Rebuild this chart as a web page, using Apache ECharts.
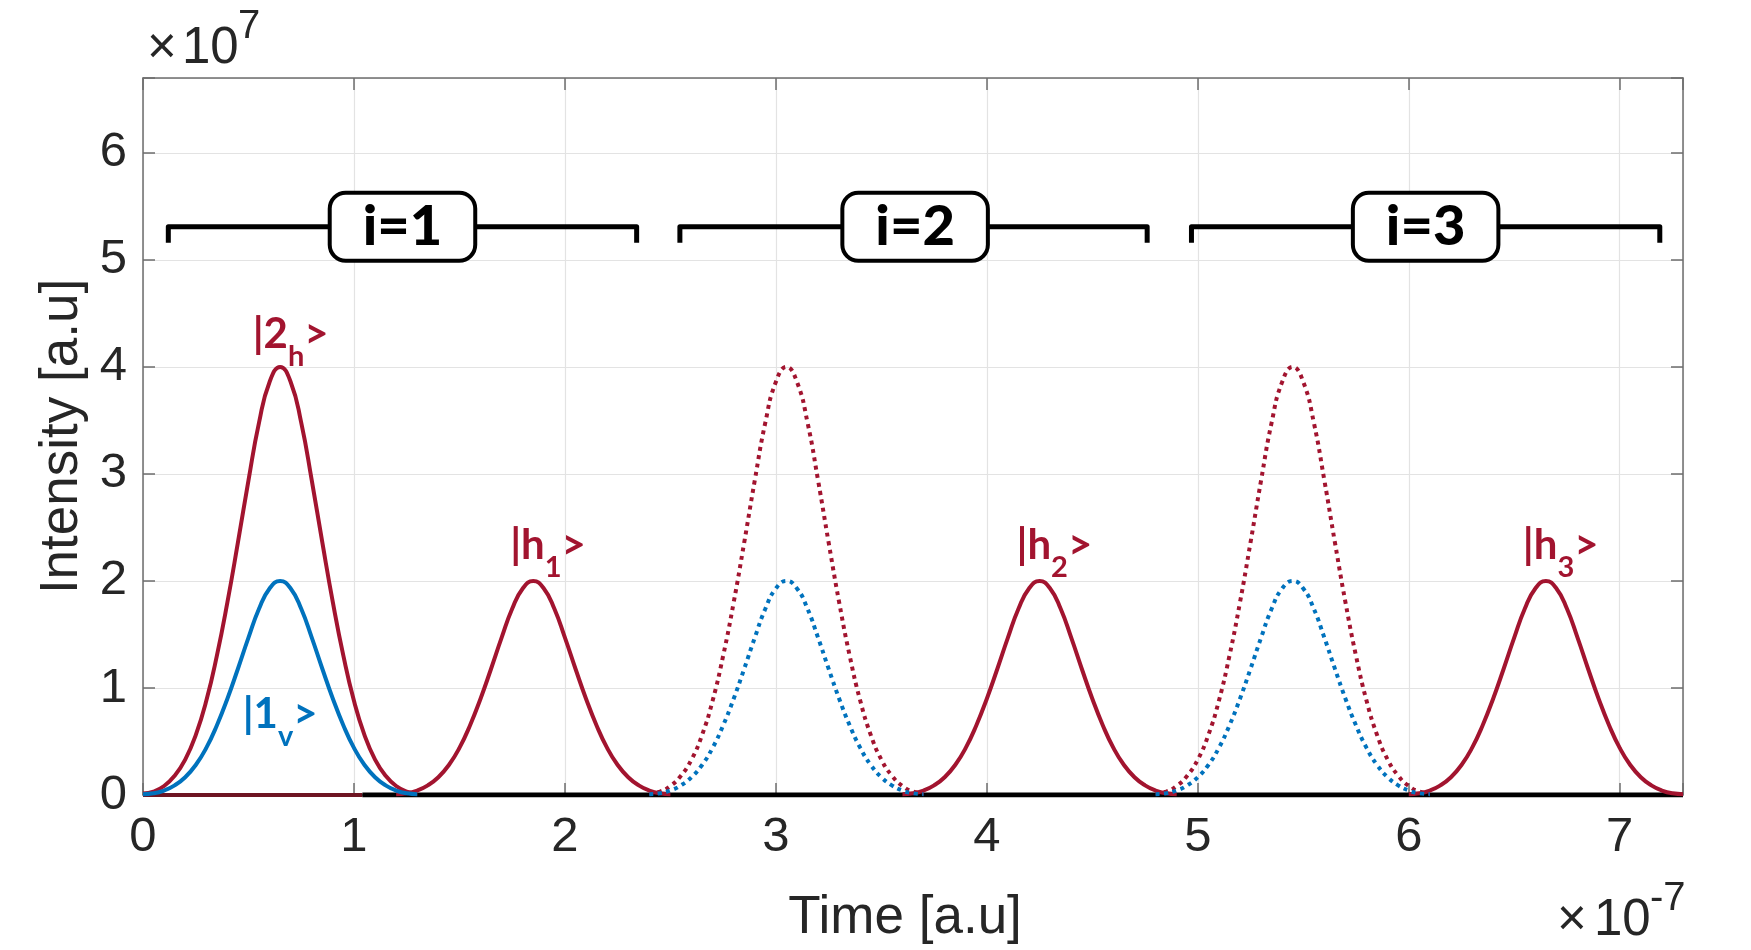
<!DOCTYPE html>
<html>
<head>
<meta charset="utf-8">
<title>Intensity vs time</title>
<script src="https://cdn.jsdelivr.net/npm/echarts@6/dist/echarts.min.js"></script>
<style>
  html, body { margin: 0; padding: 0; background: #fff; }
  #chart { width: 1751px; height: 950px; }
</style>
</head>
<body>
<div id="chart"></div>
<script>
// time in units of 1e-7, intensity in units of 1e7
const xTicks = [0, 1, 2, 3, 4, 5, 6, 7]
const yTicks = [0, 1, 2, 3, 4, 5, 6]

// one pulse: offset from the peak and height
const pulseOffsets = [-0.65, -0.6, -0.55, -0.5, -0.45, -0.4, -0.35, -0.3, -0.25, -0.2, -0.15, -0.1, -0.05, 0,
  0.05, 0.1, 0.15, 0.2, 0.25, 0.3, 0.35, 0.4, 0.45, 0.5, 0.55, 0.6, 0.65]
const bigPulse = [0.015, 0.032, 0.084, 0.18, 0.33, 0.56, 0.88, 1.3, 1.8, 2.36, 2.94, 3.48, 3.86, 4,
  3.86, 3.48, 2.94, 2.36, 1.8, 1.3, 0.88, 0.56, 0.33, 0.18, 0.084, 0.032, 0.015]
const smallPulse = [0.008, 0.016, 0.042, 0.09, 0.166, 0.28, 0.44, 0.65, 0.9, 1.18, 1.47, 1.74, 1.93, 2,
  1.93, 1.74, 1.47, 1.18, 0.9, 0.65, 0.44, 0.28, 0.166, 0.09, 0.042, 0.016, 0.008]

// pulse peaks
const redBigCenters = [0.65]              // |2h>
const redSmallCenters = [1.85, 4.25, 6.65] // |h1>, |h2>, |h3>
const blueSmallCenters = [0.65]           // |1v>
const dottedCenters = [3.05, 5.45]

// black baseline and its red start
const baselineSplit = 1.04
const baselineEnd = 7.3

// brackets i=1..3
const bracketLeft = [0.12, 2.545, 4.97]
const bracketRight = [2.34, 4.76, 7.19]
const bracketTop = 5.31
const bracketFoot = 5.16
const boxCenters = [1.23, 3.66, 6.08]
const boxLabels = ['i=1', 'i=2', 'i=3']

// state labels
const stateMain = ['|2', '|1', '|h', '|h', '|h']
const stateSub = ['h', 'v', '1', '2', '3']
const stateX = [0.70, 0.65, 1.92, 4.32, 6.72]
const stateY = [4.23, 0.68, 2.26, 2.26, 2.26]
const stateBlue = [false, true, false, false, false]

const RED = '#A2142F'
const BLUE = '#0072BD'
const AXIS = '#6e6e6e'
const TEXT = '#262626'
const FONT = 'Liberation Sans'
const BOLD = 'Lato'

function pulse(center, shape) {
  return pulseOffsets.map((d, i) => [+(center + d).toFixed(3), shape[i]])
}

function pulseSeries(center, shape, color, dotted) {
  return {
    type: 'line',
    data: pulse(center, shape),
    showSymbol: false,
    smooth: 0.5,
    silent: true,
    z: 3,
    lineStyle: dotted
      ? { color: color, width: 4, type: [4, 4.5], cap: 'butt' }
      : { color: color, width: 4 }
  }
}

const series = []

series.push({
  type: 'line', data: [[0, 0], [baselineSplit, 0]], showSymbol: false, silent: true, z: 2,
  lineStyle: { color: '#6e1522', width: 4 }
})
series.push({
  type: 'line', data: [[baselineSplit, 0], [baselineEnd, 0]], showSymbol: false, silent: true, z: 2,
  lineStyle: { color: '#000', width: 5 }
})

redBigCenters.forEach(c => series.push(pulseSeries(c, bigPulse, RED, false)))
redSmallCenters.forEach(c => series.push(pulseSeries(c, smallPulse, RED, false)))
blueSmallCenters.forEach(c => series.push(pulseSeries(c, smallPulse, BLUE, false)))
dottedCenters.forEach(c => series.push(pulseSeries(c, bigPulse, RED, true)))
dottedCenters.forEach(c => series.push(pulseSeries(c, smallPulse, BLUE, true)))

bracketLeft.forEach((l, i) => {
  series.push({
    type: 'line',
    data: [[l, bracketFoot], [l, bracketTop], [bracketRight[i], bracketTop], [bracketRight[i], bracketFoot]],
    showSymbol: false, silent: true, z: 4,
    lineStyle: { color: '#000', width: 5, join: 'round' }
  })
})

series.push({
  type: 'scatter',
  symbolSize: 1,
  itemStyle: { color: 'rgba(0,0,0,0)', opacity: 1 },
  silent: true,
  z: 6,
  data: boxCenters.map((c, i) => ({ value: [c, bracketTop], name: boxLabels[i] })),
  label: {
    show: true,
    position: 'inside',
    formatter: p => p.name,
    fontFamily: BOLD,
    fontWeight: 900,
    fontSize: 56,
    lineHeight: 56,
    color: '#000',
    backgroundColor: '#fff',
    borderColor: '#000',
    borderWidth: 4,
    borderRadius: 14,
    padding: [4, 31]
  }
})

series.push({
  type: 'scatter',
  symbolSize: 1,
  itemStyle: { color: 'rgba(0,0,0,0)', opacity: 1 },
  silent: true,
  z: 6,
  data: stateMain.map((m, i) => {
    const color = stateBlue[i] ? BLUE : RED
    return {
      value: [stateX[i], stateY[i]],
      label: {
        formatter: '{m|' + m + '}{s|' + stateSub[i] + '}{m|>}',
        rich: {
          m: { fontFamily: BOLD, fontWeight: 'bold', fontSize: 42, lineHeight: 44, verticalAlign: 'top', color: color },
          s: { fontFamily: BOLD, fontWeight: 'bold', fontSize: 29, lineHeight: 57, verticalAlign: 'bottom', color: color }
        }
      }
    }
  }),
  label: { show: true, position: 'inside' }
})

const tickLabel = list => v => (list.indexOf(Math.round(v * 1000) / 1000) >= 0 ? String(v) : '')

const axisCommon = {
  type: 'value',
  interval: 1,
  axisLine: { show: true, onZero: false, lineStyle: { color: AXIS, width: 1.5 } },
  axisTick: { show: true, inside: true, length: 12, lineStyle: { color: AXIS, width: 1.5 } }
}

const option = {
  animation: false,
  backgroundColor: '#fff',
  grid: { left: 143, right: 68, top: 78, bottom: 152 },
  xAxis: [
    Object.assign({}, axisCommon, {
      min: 0, max: 7.3, position: 'bottom',
      axisLabel: { fontSize: 49, fontFamily: FONT, color: TEXT, margin: 18, formatter: tickLabel(xTicks) },
      splitLine: { show: true, lineStyle: { color: '#e3e3e3', width: 1.2 } },
      name: 'Time [a.u]', nameLocation: 'middle', nameGap: 97,
      nameTextStyle: { fontSize: 53, fontFamily: FONT, color: TEXT, padding: [0, 16, 0, 0] }
    }),
    Object.assign({}, axisCommon, {
      min: 0, max: 7.3, position: 'top',
      axisLabel: { show: false }, splitLine: { show: false }
    })
  ],
  yAxis: [
    Object.assign({}, axisCommon, {
      min: 0, max: 6.7, position: 'left',
      axisLabel: { fontSize: 49, fontFamily: FONT, color: TEXT, margin: 16, formatter: tickLabel(yTicks) },
      splitLine: { show: true, lineStyle: { color: '#e3e3e3', width: 1.2 } },
      name: 'Intensity [a.u]', nameLocation: 'middle', nameGap: 42, nameRotate: 90,
      nameTextStyle: { fontSize: 53, fontFamily: FONT, color: TEXT }
    }),
    Object.assign({}, axisCommon, {
      min: 0, max: 6.7, position: 'right',
      axisLabel: { show: false }, splitLine: { show: false }
    })
  ],
  graphic: [
    { type: 'text', x: 147, y: 49, style: { text: '×', fontSize: 51, fontFamily: FONT, fill: TEXT, verticalAlign: 'middle' } },
    { type: 'text', x: 182, y: 49, style: { text: '10', fontSize: 51, fontFamily: FONT, fill: TEXT, verticalAlign: 'middle' } },
    { type: 'text', x: 238, y: 27, style: { text: '7', fontSize: 40, fontFamily: FONT, fill: TEXT, verticalAlign: 'middle' } },
    { type: 'text', x: 1557, y: 921, style: { text: '×', fontSize: 51, fontFamily: FONT, fill: TEXT, verticalAlign: 'middle' } },
    { type: 'text', x: 1594, y: 921, style: { text: '10', fontSize: 51, fontFamily: FONT, fill: TEXT, verticalAlign: 'middle' } },
    { type: 'text', x: 1650, y: 899, style: { text: '-7', fontSize: 40, fontFamily: FONT, fill: TEXT, verticalAlign: 'middle' } }
  ],
  series: series
}

const chart = echarts.init(document.getElementById('chart'))
chart.setOption(option)
</script>
</body>
</html>
